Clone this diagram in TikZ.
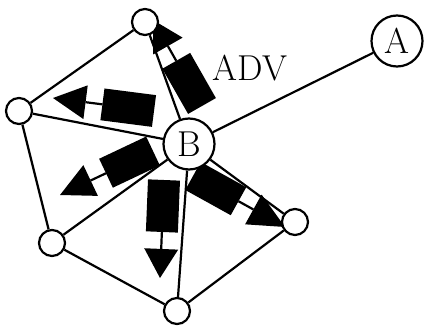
\documentclass[tikz,border=0pt]{standalone}
\usepackage{tikz}
\usetikzlibrary{calc,backgrounds}

\begin{document}
\begin{tikzpicture}[x=1pt,y=-1pt,line width=2.2pt,
        font=\fontsize{36}{40}\selectfont,
        vertex/.style={circle,draw,fill=white,inner sep=0pt,minimum size=26pt},
        station/.style={circle,draw,fill=white,inner sep=0pt,minimum size=51pt}]
    \useasboundingbox (0,0) rectangle (425,326);

    % stations and neighbours
    \node[station] (B) at (189,144) {B};
    \node[station] (A) at (397,41) {A};
    \node[vertex] (nt) at (145,22) {};
    \node[vertex] (nl) at (19,111) {};
    \node[vertex] (nll) at (52,243) {};
    \node[vertex] (nb) at (177,311) {};
    \node[vertex] (nr) at (295,222) {};
    \node (adv) at (250,68) {ADV};

    \begin{scope}[on background layer]
    \begin{scope}[line width=2.2pt]
        % links
        \draw (nt) -- (nl) -- (nll) -- (nb) -- (nr);
        \foreach \n in {nt,nl,nll,nb,nr,A}
            \draw (B) -- (\n);

        % block arrows: tail x/y, tip x/y
        \foreach \tx/\ty/\hx/\hy in {202/106/153/20, 154/111/53/98,
                153/151/60/195, 164/180/160/278, 193/176/285/227} {
            \coordinate (t) at (\tx,\ty);
            \coordinate (h) at (\hx,\hy);
            \coordinate (m) at ($(t)!52pt!(h)$);
            \coordinate (c) at ($(t)!69pt!(h)$);
            \fill ($(t)!16pt!90:(h)$) -- ($(m)!16pt!-90:(t)$)
                -- ($(m)!16pt!90:(t)$) -- ($(t)!16pt!-90:(h)$) -- cycle;
            \draw (m) -- (c);
            \fill ($(c)!17pt!90:(h)$) -- (h) -- ($(c)!17pt!-90:(h)$) -- cycle;
        }
    \end{scope}
    \end{scope}
\end{tikzpicture}
\end{document}
